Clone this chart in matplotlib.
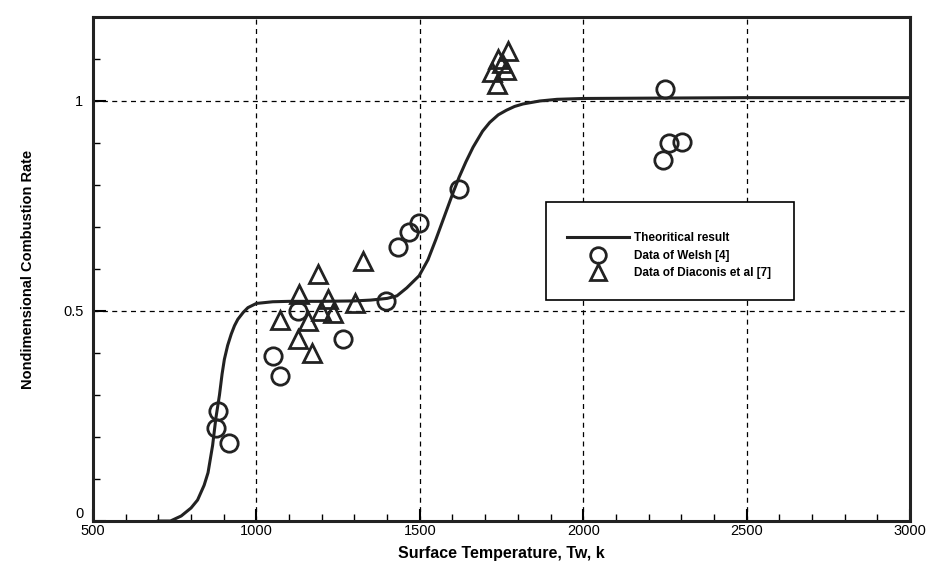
import matplotlib
matplotlib.use("Agg")
import matplotlib.pyplot as plt
from matplotlib.patches import Rectangle
from matplotlib.ticker import MultipleLocator

plt.rcParams['font.family'] = ['Liberation Sans', 'DejaVu Sans']

# theoretical curve
theory_T = [700, 737, 770, 800, 820, 840, 852, 866, 876, 887, 895, 902, 912,
            923, 933, 943, 960, 974, 1000, 1050, 1100, 1200, 1300, 1350, 1400,
            1430, 1460, 1498, 1525, 1549, 1575, 1600, 1620, 1641, 1663, 1692,
            1714, 1740, 1765, 1790, 1816, 1867, 1920, 2000, 2500, 3000]
theory_y = [0.0, 0.0, 0.012, 0.031, 0.05, 0.085, 0.115, 0.18, 0.245, 0.3,
            0.35, 0.385, 0.418, 0.445, 0.465, 0.48, 0.497, 0.508, 0.518,
            0.522, 0.523, 0.523, 0.524, 0.526, 0.53, 0.536, 0.555, 0.584,
            0.622, 0.67, 0.725, 0.778, 0.818, 0.855, 0.89, 0.928, 0.949,
            0.967, 0.978, 0.987, 0.993, 1.0, 1.004, 1.006, 1.008, 1.008]

# Data of Welsh [4]
welsh_T = [876, 884, 915, 1051, 1071, 1128, 1265, 1398, 1432, 1467, 1498,
           1620, 2250, 2245, 2262, 2301]
welsh_y = [0.222, 0.263, 0.185, 0.394, 0.345, 0.50, 0.433, 0.524, 0.653,
           0.689, 0.71, 0.791, 1.029, 0.86, 0.90, 0.903]

# Data of Diaconis et al [7]
diac_T = [1071, 1128, 1131, 1158, 1171, 1187, 1199, 1219, 1235, 1301, 1327,
          1722, 1738, 1735, 1765, 1770, 1750]
diac_y = [0.478, 0.433, 0.541, 0.476, 0.401, 0.587, 0.50, 0.528, 0.496,
          0.520, 0.618, 1.07, 1.10, 1.04, 1.075, 1.12, 1.09]

fig = plt.figure(figsize=(9.26, 5.67), dpi=100)
ax = fig.add_axes([93 / 926, 1 - 521 / 567, 817 / 926, 504 / 567])

ax.plot(theory_T, theory_y, '-', color='#222222', lw=2.2, zorder=3,
        label='Theoritical result')
ax.plot(welsh_T, welsh_y, 'o', ms=12.5, mfc='none', mec='#222222', mew=2.0,
        zorder=4, label='Data of Welsh [4]')
ax.plot(diac_T, diac_y, '^', ms=12.5, mfc='none', mec='#222222', mew=2.0,
        zorder=4, label='Data of Diaconis et al [7]')

ax.set_xlim(500, 3000)
ax.set_ylim(0, 1.2)
ax.xaxis.set_major_locator(MultipleLocator(500))
ax.xaxis.set_minor_locator(MultipleLocator(100))
ax.set_yticks([0, 0.5, 1])
ax.set_yticklabels(['0', '0.5', '1'])
ax.yaxis.set_minor_locator(MultipleLocator(0.1))

ax.tick_params(which='major', direction='in', length=9, width=1.5,
               labelsize=10.5, pad=2, top=False, right=False)
ax.tick_params(which='minor', direction='in', length=5, width=1,
               top=False, right=False)
ax.tick_params(axis='y', pad=7)
# the "0" sits a little above the axis line so it clears the "500"
ax.get_yticklabels()[0].set_verticalalignment('bottom')

for sp in ax.spines.values():
    sp.set_linewidth(2.2)
    sp.set_color('#222222')

ax.grid(True, which='major', color='black', linestyle=(0, (4, 3.5)), lw=0.9)
ax.set_axisbelow(True)

ax.set_xlabel('Surface Temperature, Tw, k', fontsize=11.5, fontweight='bold',
              labelpad=6)
ax.set_ylabel('Nondimensional Combustion Rate', fontsize=10.5,
              fontweight='bold', labelpad=20)

# legend box drawn separately so it hides the grid lines behind it
box = Rectangle((0.555, 0.438), 0.303, 0.195, transform=ax.transAxes,
                facecolor='white', edgecolor='black', lw=1.2, zorder=5)
ax.add_patch(box)
leg = ax.legend(loc='upper left', bbox_to_anchor=(0.575, 0.582),
                frameon=False, fontsize=8.5, handlelength=5.2,
                handletextpad=0.4, labelspacing=0.45, markerscale=0.9,
                borderaxespad=0)
leg.set_zorder(6)
for t in leg.get_texts():
    t.set_fontweight('bold')

fig.savefig('out.png', dpi=100)
